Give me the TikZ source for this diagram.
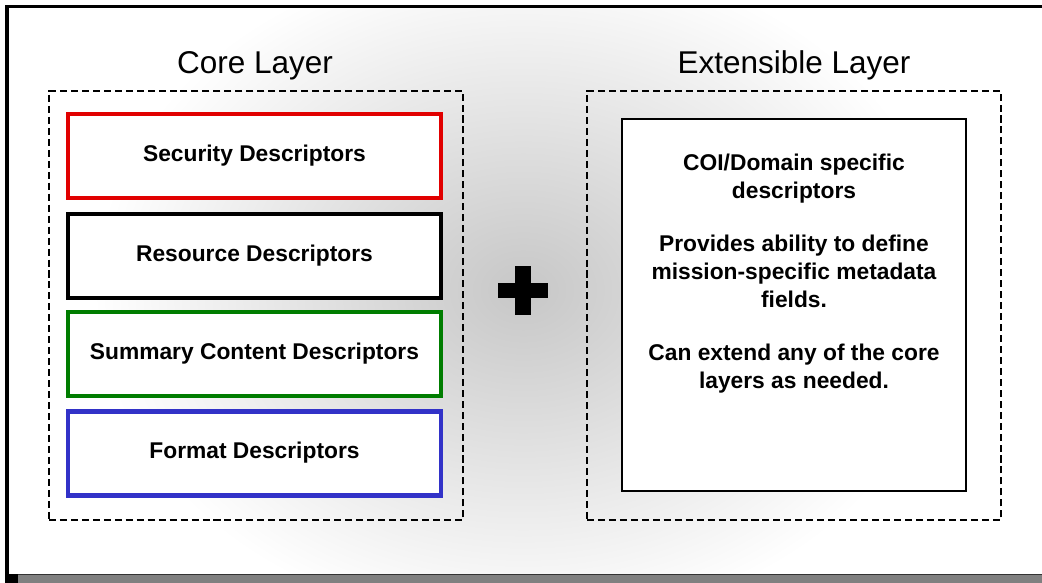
\documentclass[tikz,border=0pt]{standalone}
\usepackage{fontspec}
\setmainfont{Liberation Sans}
\definecolor{secred}{RGB}{225,0,0}
\definecolor{sumgreen}{RGB}{0,125,0}
\definecolor{fmtblue}{RGB}{50,50,200}
\begin{document}
\begin{tikzpicture}[x=0.025cm,y=-0.025cm,
    descbox/.style={draw,line width=3pt,fill=white,minimum width=9.325cm,minimum height=2.1cm,inner sep=0pt,
      text height=0.72em,text depth=0pt,font=\fontsize{16.2}{19.9}\selectfont\bfseries},
    layerbox/.style={draw,line width=1.1pt,dash pattern=on 5pt off 2.8pt,minimum width=10.35cm,minimum height=10.725cm},
    layertitle/.style={anchor=base,font=\fontsize{22.4}{26}\selectfont}]
    \useasboundingbox (0,0) rectangle (1042,583);
    \fill[white] (0,0) rectangle (1042,583);
    \begin{scope}
      \clip (9,8) rectangle (1042,574);
      \shade[inner color=black!22,outer color=white] (93,-50) rectangle (953,630);
    \end{scope}
    \fill (5,5) rectangle (9,583);
    \fill (5,5) rectangle (1042,8);
    \fill[black!50] (18,574) rectangle (1042,583);
    \fill[black!80] (18,574) rectangle (1042,575.5);
    \fill (5,574) rectangle (18,583);
    \node[layerbox] (core) at (256,305.5) {};
    \node[layerbox] (ext) at (794,305.5) {};
    \node[layertitle] (coretitle) at (255,74) {Core Layer};
    \node[layertitle] (exttitle) at (794,74) {Extensible Layer};
    \node[descbox,draw=secred] (security) at (254.5,156) {Security Descriptors};
    \node[descbox] (resource) at (254.5,256) {Resource Descriptors};
    \node[descbox,draw=sumgreen] (summary) at (254.5,354) {Summary Content Descriptors};
    \node[descbox,draw=fmtblue] (format) at (254.5,453.5) {Format Descriptors};
    \fill (515,266) rectangle (531,315);
    \fill (498,283) rectangle (548,298);
    \node[draw,line width=1.4pt,fill=white,minimum width=8.6cm,minimum height=9.3cm] (coibox) at (794,305) {};
    \node[anchor=north,inner sep=0pt,align=center,font=\fontsize{16.2}{19.9}\selectfont\bfseries] (coitext) at (794,154)
      {COI/Domain specific\\descriptors\\[17.8pt]Provides ability to define\\mission-specific metadata\\fields.\\[17.8pt]Can extend any of the core\\layers as needed.};
\end{tikzpicture}
\end{document}
